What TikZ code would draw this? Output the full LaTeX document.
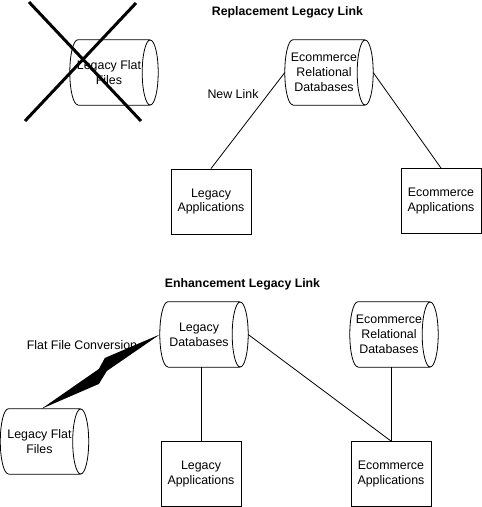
\documentclass[tikz,border=0pt]{standalone}
\usepackage{fontspec}
\setmainfont{Liberation Sans}
\usetikzlibrary{calc}

\tikzset{
  dbbox/.style={minimum width=88pt,minimum height=65pt,inner sep=0pt},
  dbtext/.style={align=center,inner sep=0pt,font=\fontsize{12.4}{15}\selectfont},
  appbox/.style={draw,line width=0.9pt,minimum width=80pt,minimum height=65pt,
    align=center,inner sep=0pt,font=\fontsize{12.4}{14.5}\selectfont},
  link/.style={line width=0.8pt},
  cross/.style={line width=3pt},
  title/.style={font=\bfseries\fontsize{12.3}{14}\selectfont},
  lbl/.style={font=\fontsize{12.4}{14}\selectfont},
}

% horizontal database cylinder: name, centre, text
\newcommand{\dbcyl}[3]{%
  \node[dbbox] (#1) at (#2) {};
  \node[dbtext] (#1-t) at ([xshift=-5pt]#1.center) {#3};
  \draw[link] ([xshift=8pt]#1.north west) -- ([xshift=-8pt]#1.north east)
    ([xshift=8pt]#1.south west) -- ([xshift=-8pt]#1.south east)
    ([xshift=8pt]#1.north west) arc[start angle=90,end angle=270,x radius=8pt,y radius=32.5pt]
    ([xshift=-8pt]#1.east) ellipse[x radius=8pt,y radius=32.5pt];
}

\begin{document}
\begin{tikzpicture}[x=1pt,y=-1pt]

\useasboundingbox (0,0) rectangle (482,507);

% Replacement
\node[title] (title1) at (287.5,12) {Replacement Legacy Link};

\dbcyl{lff1}{114,72.5}{Legacy Flat\\Files}
\draw[cross] (29,2) -- (141,121);
\draw[cross] (136,3) -- (25,121);

\dbcyl{ecdb1}{329,72.5}{Ecommerce\\Relational\\Databases}
\node[appbox] (lapp1) at (211,201.5) {Legacy\\Applications};
\node[appbox] (eapp1) at (441,201) {Ecommerce\\Applications};
\node[lbl] (newlink) at (233,94) {New Link};

\draw[link] (ecdb1.west) -- (lapp1.north);
\draw[link] (ecdb1.east) -- (eapp1.north);

% Enhancement
\node[title] (title2) at (242.5,284) {Enhancement Legacy Link};

\dbcyl{ldb}{204,334.5}{Legacy\\Databases}
\dbcyl{ecdb2}{394,334.5}{Ecommerce\\Relational\\Databases}
\dbcyl{lff2}{44.5,441.5}{Legacy Flat\\Files}
\node[appbox] (lapp2) at (201,474) {Legacy\\Applications};
\node[appbox] (eapp2) at (391,474) {Ecommerce\\Applications};
\node[lbl] (conv) at (82,345) {Flat File Conversion};

\draw[link] (lapp2.north) -- (lapp2.north |- ldb.south);
\draw[link] (eapp2.north) -- (eapp2.north |- ecdb2.south);
\draw[link] (ldb.east) -- (eapp2.north);

% the bolt
\coordinate (boltend) at ([xshift=-3pt]lff2.north);
\fill (boltend)
  -- ($(boltend)!0.48!(ldb.west)+(0.6,-4.2)$)
  -- ($(boltend)!0.48!(ldb.west)+(6.6,-15.2)$)
  -- (ldb.west)
  -- ($(boltend)!0.48!(ldb.west)+(8.6,-2.2)$)
  -- ($(boltend)!0.48!(ldb.west)+(0.6,10.8)$)
  -- cycle;

\end{tikzpicture}
\end{document}
